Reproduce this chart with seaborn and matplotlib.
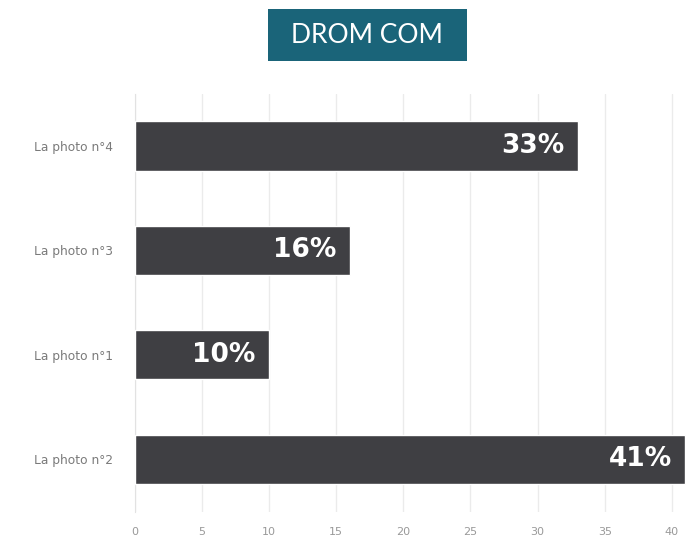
import matplotlib
matplotlib.use("Agg")
import matplotlib.pyplot as plt
from matplotlib.patches import Rectangle
import seaborn as sns
import pandas as pd

# Data
categories = ["La photo n°4", "La photo n°3", "La photo n°1", "La photo n°2"]
values = [33, 16, 10, 41]
labels = ["33%", "16%", "10%", "41%"]
x_ticks = [0, 5, 10, 15, 20, 25, 30, 35, 40]

df = pd.DataFrame({"photo": categories, "pct": values})

sns.set_style("white")
plt.rcParams["font.family"] = ["DejaVu Sans"]

fig = plt.figure(figsize=(6.88, 5.39), dpi=100)
ax = fig.add_axes([0.196, 0.051, 0.804, 0.775])

sns.barplot(data=df, x="pct", y="photo", orient="h", color="#3f3f43",
            width=0.47, saturation=1, ax=ax, zorder=3)

# percentage labels inside the bars
for i, (v, lab) in enumerate(zip(values, labels)):
    ax.text(v - 1.0, i, lab, ha="right", va="center", color="white",
            fontsize=19, fontweight="bold", zorder=4)

ax.set_xlim(0, 41.2)
ax.set_ylim(len(categories) - 0.5, -0.5)
ax.set_xticks(x_ticks)
ax.set_xticklabels([str(t) for t in x_ticks])
ax.xaxis.grid(True, color="#ebebeb", linewidth=1, zorder=0)
ax.tick_params(axis="x", length=0, labelsize=8, labelcolor="#999999", pad=11)

# boundary ticks on y axis, labels at bar centers
ax.set_yticks([i - 0.5 for i in range(len(categories) + 1)])
ax.set_yticklabels([])
ax.set_yticks(range(len(categories)), minor=True)
ax.set_yticklabels(categories, minor=True)
ax.tick_params(axis="y", which="major", length=12, color="#e2e2e2", width=1)
ax.tick_params(axis="y", which="minor", length=0, labelsize=8.8,
               labelcolor="#7a7a7a", pad=16)

ax.set_xlabel("")
ax.set_ylabel("")
for side in ["top", "right", "bottom"]:
    ax.spines[side].set_visible(False)
ax.spines["left"].set_color("#e2e2e2")

# title box
fig.patches.append(Rectangle((0.3895, 0.8868), 0.2893, 0.0965,
                             transform=fig.transFigure, facecolor="#1a6479",
                             edgecolor="none"))
fig.text(0.534, 0.935, "DROM COM", ha="center", va="center", color="white",
         fontsize=19, family=["Lato", "DejaVu Sans"])

fig.savefig("out.png", dpi=100)
